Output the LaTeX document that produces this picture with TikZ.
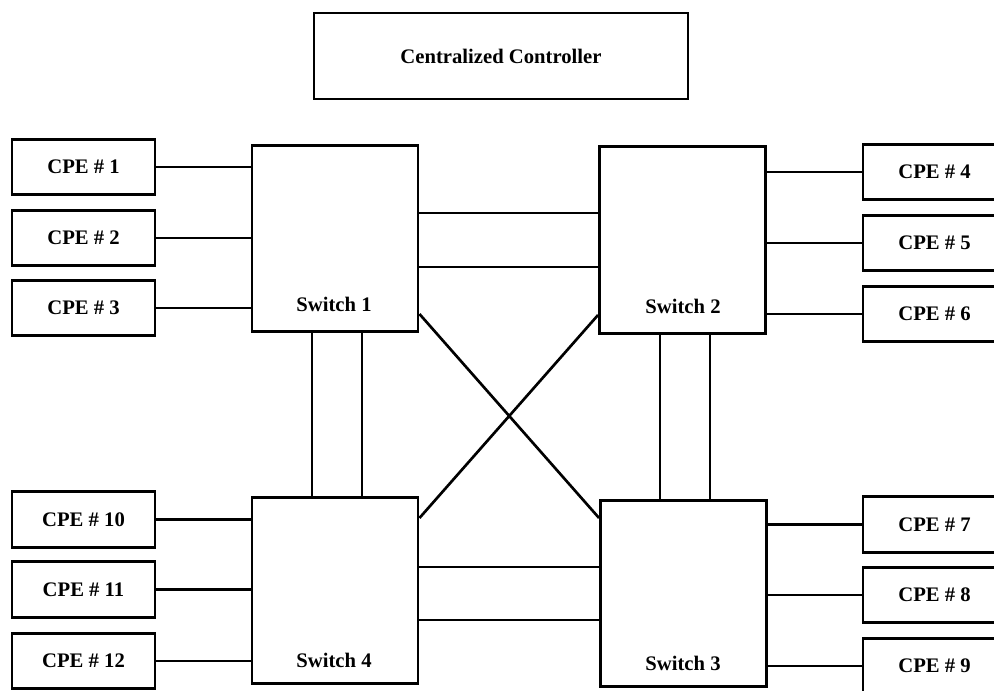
\documentclass[tikz,border=0pt]{standalone}
\usepackage{fontspec}
\setmainfont{Liberation Serif}
\begin{document}
\begin{tikzpicture}[x=0.75pt,y=-0.75pt,
  box/.style={draw, line width=2.2pt, inner sep=0pt, font=\fontsize{15.5}{17}\selectfont\bfseries},
  cpe/.style={box, minimum width=107.25pt, minimum height=41.5pt},
  switchbox/.style={box, minimum width=124.5pt, minimum height=140pt},
  lbl/.style={inner sep=0pt, font=\fontsize{15.5}{17}\selectfont\bfseries},
  link/.style={line width=2pt}]
\useasboundingbox (0,0) rectangle (994,691);
\clip (0,0) rectangle (994,691);

% controller
\node[box, minimum width=280.5pt, minimum height=64.5pt] (cc) at (501,56) {Centralized Controller};

% switches
\node[switchbox] (s1) at (335,238.5) {};
\node[switchbox] (s2) at (682.5,240) {};
\node[switchbox] (s3) at (683.5,593.5) {};
\node[switchbox] (s4) at (335,590.5) {};
\node[lbl] (l1) at (334,304) {Switch 1};
\node[lbl] (l2) at (683,306) {Switch 2};
\node[lbl] (l3) at (683,663) {Switch 3};
\node[lbl] (l4) at (334,660) {Switch 4};

% customer premises equipment
\node[cpe] (c1) at (83.5,167) {CPE \# 1};
\node[cpe] (c2) at (83.5,238) {CPE \# 2};
\node[cpe] (c3) at (83.5,308) {CPE \# 3};
\node[cpe] (c4) at (934.5,172) {CPE \# 4};
\node[cpe] (c5) at (934.5,243) {CPE \# 5};
\node[cpe] (c6) at (934.5,314) {CPE \# 6};
\node[cpe] (c7) at (934.5,524.5) {CPE \# 7};
\node[cpe] (c8) at (934.5,595) {CPE \# 8};
\node[cpe] (c9) at (934.5,666) {CPE \# 9};
\node[cpe] (c10) at (83.5,519.5) {CPE \# 10};
\node[cpe] (c11) at (83.5,589.5) {CPE \# 11};
\node[cpe] (c12) at (83.5,661) {CPE \# 12};

% access links
\foreach \c in {c1,c2,c3} \draw[link] (\c.east) -- (s1.west |- \c.east);
\foreach \c in {c4,c5,c6} \draw[link] (\c.west) -- (s2.east |- \c.west);
\foreach \c in {c7,c8,c9} \draw[link] (\c.west) -- (s3.east |- \c.west);
\foreach \c in {c10,c11,c12} \draw[link] (\c.east) -- (s4.west |- \c.east);

% trunk links between switches
\foreach \y in {213,267} \draw[link] (s1.east |- 0,\y) -- (s2.west |- 0,\y);
\foreach \y in {567,620} \draw[link] (s4.east |- 0,\y) -- (s3.west |- 0,\y);
\foreach \x in {312,362} \draw[link] (s1.south -| \x,0) -- (s4.north -| \x,0);
\foreach \x in {660,710} \draw[link] (s2.south -| \x,0) -- (s3.north -| \x,0);
\draw[link] (s1.east |- 0,314) -- (s3.west |- 0,518);
\draw[link] (s2.west |- 0,315) -- (s4.east |- 0,518);
\end{tikzpicture}
\end{document}
